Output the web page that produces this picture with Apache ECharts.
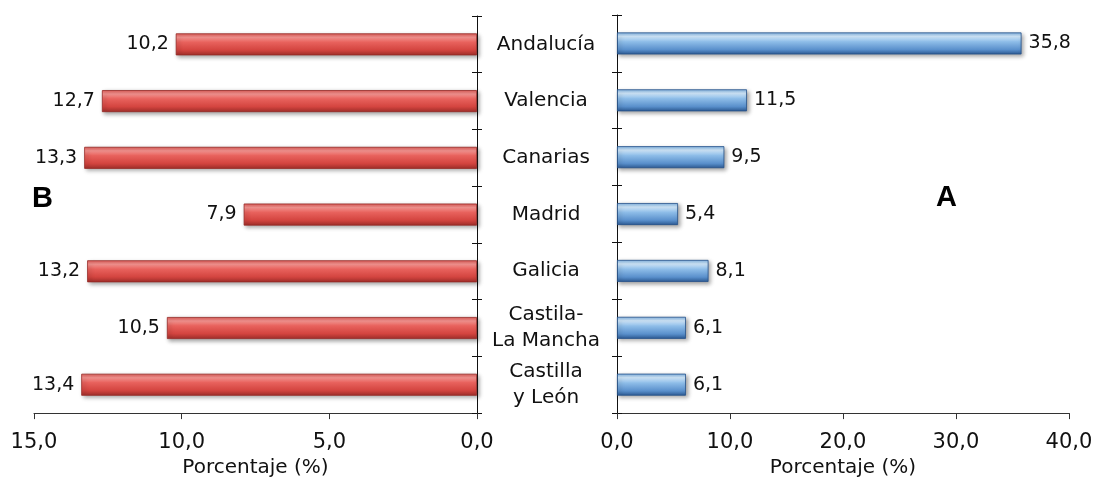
<!DOCTYPE html>
<html>
<head>
<meta charset="utf-8">
<script src="https://cdn.jsdelivr.net/npm/echarts@6/dist/echarts.min.js"></script>
<style>html,body{margin:0;padding:0;background:#fff}#c{width:1097px;height:483px}</style>
</head>
<body>
<div id="c"></div>
<script>
const categories = ['Andalucía', 'Valencia', 'Canarias', 'Madrid', 'Galicia', 'Castila-\nLa Mancha', 'Castilla\ny León'];
const seriesB = [10.2, 12.7, 13.3, 7.9, 13.2, 10.5, 13.4];
const seriesA = [35.8, 11.5, 9.5, 5.4, 8.1, 6.1, 6.1];
const axisNameText = 'Porcentaje (%)';
const panelLabels = ['B', 'A'];

const FONT = 'DejaVu Sans';
const fmt = v => Number(v).toFixed(1).replace('.', ',');

const redGrad = new echarts.graphic.LinearGradient(0, 0, 0, 1, [
  {offset: 0, color: '#dc5a56'},
  {offset: 0.18, color: '#f59490'},
  {offset: 0.4, color: '#e8625d'},
  {offset: 0.75, color: '#d44540'},
  {offset: 1, color: '#a02e2a'}
]);
const blueGrad = new echarts.graphic.LinearGradient(0, 0, 0, 1, [
  {offset: 0, color: '#7fb2e2'},
  {offset: 0.18, color: '#d0e7fa'},
  {offset: 0.42, color: '#8ebde8'},
  {offset: 0.78, color: '#5a90cc'},
  {offset: 1, color: '#2c5a94'}
]);

const chart = echarts.init(document.getElementById('c'), null, {renderer: 'canvas'});

const axisLineStyle = {color: '#111', width: 1};

chart.setOption({
  animation: false,
  backgroundColor: '#fff',
  textStyle: {fontFamily: FONT},
  grid: [
    {left: 34, width: 443, top: 16, height: 399},
    {left: 617, width: 452, top: 15, height: 399}
  ],
  xAxis: [
    {
      gridIndex: 0, type: 'value', inverse: true, min: 0, max: 15, interval: 5,
      splitLine: {show: false},
      axisLine: {show: true, lineStyle: {color: '#333', width: 1}},
      axisTick: {show: true, length: 6, lineStyle: {color: '#333'}},
      axisLabel: {formatter: fmt, fontFamily: FONT, fontSize: 21, color: '#111', margin: 19},
      name: axisNameText, nameLocation: 'middle', nameGap: 39,
      nameTextStyle: {fontFamily: FONT, fontSize: 20, color: '#111'}
    },
    {
      gridIndex: 1, type: 'value', min: 0, max: 40, interval: 10,
      splitLine: {show: false},
      axisLine: {show: true, lineStyle: {color: '#333', width: 1}},
      axisTick: {show: true, length: 6, lineStyle: {color: '#333'}},
      axisLabel: {formatter: fmt, fontFamily: FONT, fontSize: 21, color: '#111', margin: 19},
      name: axisNameText, nameLocation: 'middle', nameGap: 39,
      nameTextStyle: {fontFamily: FONT, fontSize: 20, color: '#111'}
    }
  ],
  yAxis: [
    {
      gridIndex: 0, type: 'category', data: categories, inverse: true, position: 'right',
      axisLine: {show: true, onZero: false, lineStyle: axisLineStyle},
      axisTick: {show: true, length: 5, lineStyle: axisLineStyle},
      axisLabel: {show: true, interval: 0, align: 'center', margin: 69, fontFamily: FONT, fontSize: 20, color: '#111', lineHeight: 26}
    },
    {
      gridIndex: 0, type: 'category', data: categories, inverse: true, position: 'right',
      axisLine: {show: false},
      axisTick: {show: true, inside: true, length: 5, lineStyle: axisLineStyle},
      axisLabel: {show: false}
    },
    {
      gridIndex: 1, type: 'category', data: categories, inverse: true, position: 'left',
      axisLine: {show: true, onZero: false, lineStyle: axisLineStyle},
      axisTick: {show: true, length: 5, lineStyle: axisLineStyle},
      axisLabel: {show: false}
    },
    {
      gridIndex: 1, type: 'category', data: categories, inverse: true, position: 'left',
      axisLine: {show: false},
      axisTick: {show: true, inside: true, length: 5, lineStyle: axisLineStyle},
      axisLabel: {show: false}
    }
  ],
  series: [
    {
      type: 'bar', xAxisIndex: 0, yAxisIndex: 0, data: seriesB, barWidth: 22,
      itemStyle: {
        color: redGrad, borderColor: '#962a26', borderWidth: 0.8,
        shadowColor: 'rgba(0,0,0,0.35)', shadowBlur: 4, shadowOffsetX: 2, shadowOffsetY: 2
      },
      label: {show: true, position: 'left', distance: 7, formatter: p => fmt(p.value), fontFamily: FONT, fontSize: 19, color: '#111'}
    },
    {
      type: 'bar', xAxisIndex: 1, yAxisIndex: 2, data: seriesA, barWidth: 22,
      itemStyle: {
        color: blueGrad, borderColor: '#24508a', borderWidth: 0.8,
        shadowColor: 'rgba(0,0,0,0.35)', shadowBlur: 4, shadowOffsetX: 2, shadowOffsetY: 2
      },
      label: {show: true, position: 'right', distance: 7, formatter: p => fmt(p.value), fontFamily: FONT, fontSize: 19, color: '#111'}
    }
  ],
  graphic: [
    {type: 'text', left: 32, top: 184, style: {text: panelLabels[0], font: 'bold 29px "Liberation Sans"', fill: '#000'}},
    {type: 'text', left: 936, top: 183, style: {text: panelLabels[1], font: 'bold 29px "Liberation Sans"', fill: '#000'}}
  ]
});
</script>
</body>
</html>
